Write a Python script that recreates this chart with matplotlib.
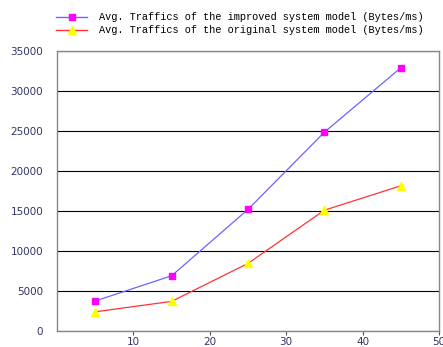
import matplotlib.pyplot as plt
from matplotlib.lines import Line2D

x_vals = [5, 15, 25, 35, 45]
improved = [3750, 6900, 15200, 24850, 32900]
original = [2400, 3700, 8450, 15100, 18150]
labels = ['Avg. Traffics of the improved system model (Bytes/ms)',
          'Avg. Traffics of the original system model (Bytes/ms)']

fig = plt.figure(figsize=(4.43, 3.47), dpi=100)
ax = fig.add_axes([57 / 443, 16 / 347, 382 / 443, 280 / 347])

ax.plot(x_vals, improved, color='#6666ff', lw=0.9, marker='s', ms=5,
        mfc='#ff00ff', mec='#ff00ff')
ax.plot(x_vals, original, color='#ff3333', lw=0.9, marker='^', ms=6,
        mfc='#ffff00', mec='#ffff00')

ax.set_xlim(0, 50)
ax.set_ylim(0, 35000)
ax.set_xticks([10, 20, 30, 40, 50])
ax.set_yticks(range(0, 35001, 5000))
ax.yaxis.grid(True, color='black', lw=0.8)
ax.set_axisbelow(True)
for s in ax.spines.values():
    s.set_color('#888888')
    s.set_linewidth(1.0)
ax.tick_params(axis='y', length=0, pad=10, labelsize=7.5, labelcolor='#333366')
ax.tick_params(axis='x', length=3, pad=1.5, labelsize=7.5, labelcolor='#333366',
               color='#555555')

handles = [
    Line2D([], [], color='#6666ff', lw=1, marker='s', ms=5, mfc='#ff00ff', mec='#ff00ff'),
    Line2D([], [], color='#ff3333', lw=1, marker='^', ms=6, mfc='#ffff00', mec='#ffff00'),
]
fig.legend(handles, labels, loc='upper left', bbox_to_anchor=(47 / 443, 1 - 3 / 347),
           frameon=False, prop={'family': 'Liberation Mono', 'size': 7.4},
           handlelength=3.0, labelspacing=0.3, handletextpad=1.2)

fig.savefig('out.png', dpi=100)
